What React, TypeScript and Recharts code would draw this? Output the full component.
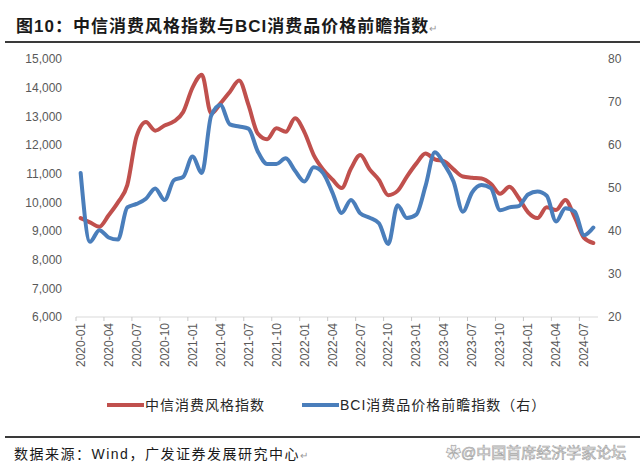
import React from 'react';
import { LineChart, Line, XAxis, YAxis } from 'recharts';

const months = [
  '2020-01', '2020-02', '2020-03', '2020-04', '2020-05', '2020-06', '2020-07', '2020-08', '2020-09', '2020-10', '2020-11', '2020-12',
  '2021-01', '2021-02', '2021-03', '2021-04', '2021-05', '2021-06', '2021-07', '2021-08', '2021-09', '2021-10', '2021-11', '2021-12',
  '2022-01', '2022-02', '2022-03', '2022-04', '2022-05', '2022-06', '2022-07', '2022-08', '2022-09', '2022-10', '2022-11', '2022-12',
  '2023-01', '2023-02', '2023-03', '2023-04', '2023-05', '2023-06', '2023-07', '2023-08', '2023-09', '2023-10', '2023-11', '2023-12',
  '2024-01', '2024-02', '2024-03', '2024-04', '2024-05', '2024-06', '2024-07', '2024-08',
];

// 中信消费风格指数 (left axis)
const citicConsumer = [
  9450, 9300, 9150, 9550, 10000, 10600, 12300, 12800, 12500, 12680, 12820, 13150,
  14000, 14450, 13100, 13450, 13850, 14250, 13400, 12400, 12200, 12580, 12460, 12930,
  12450, 11650, 11150, 10800, 10500, 11180, 11650, 11150, 10780, 10250, 10400, 10900,
  11350, 11700, 11500, 11430, 11150, 10900, 10860, 10830, 10650, 10300, 10540, 10150,
  9650, 9450, 9830, 9730, 10080, 9480, 8760, 8580,
];

// BCI消费品价格前瞻指数 (right axis)
const bciPrice = [
  53.5, 37.5, 40.2, 38.5, 38.0, 45.5, 46.3, 47.5, 49.9, 47.2, 51.8, 52.6,
  57.3, 53.5, 66.8, 69.3, 64.8, 64.3, 63.8, 58.5, 55.6, 55.6, 56.9, 54.0,
  51.5, 54.8, 53.5, 49.0, 44.2, 47.2, 44.1, 43.1, 41.8, 37.0, 46.0, 43.0,
  43.8, 50.5, 58.3, 55.5, 51.5, 44.5, 49.0, 50.7, 50.0, 44.8, 45.5, 45.8,
  48.5, 49.2, 48.2, 42.2, 45.3, 44.5, 39.0, 40.8,
];

const tickLabels = [
  '2020-01', '2020-04', '2020-07', '2020-10', '2021-01', '2021-04', '2021-07', '2021-10',
  '2022-01', '2022-04', '2022-07', '2022-10', '2023-01', '2023-04', '2023-07', '2023-10',
  '2024-01', '2024-04', '2024-07',
];

const leftTicks = [6000, 7000, 8000, 9000, 10000, 11000, 12000, 13000, 14000, 15000];
const rightTicks = [20, 30, 40, 50, 60, 70, 80];

const seriesNames = ['中信消费风格指数', 'BCI消费品价格前瞻指数（右）'];

const RED = '#C0504D';
const BLUE = '#4A7EBB';

const CHART_W = 640;
const CHART_H = 380;
const LEFT_W = 76;
const RIGHT_W = 42;
const X_H = 63;
const TOP = 59;
const MONTH_W = (CHART_W - LEFT_W - RIGHT_W) / months.length;

const data = months.map((m, i) => ({ i, month: m, citic: citicConsumer[i], bci: bciPrice[i] }));
const xTicks = tickLabels.map((l) => months.indexOf(l));

const AXIS_FONT = '"Liberation Sans", Arial, sans-serif';
const CJK_FONT = '"Liberation Sans", Arial, "Noto Sans CJK SC", sans-serif';

const MonthTick = (props: any) => {
  const { x, y, payload } = props;
  const label = months[payload.value];
  const tx = x - MONTH_W / 2;
  return (
    <g>
      <line x1={tx} x2={tx} y1={y} y2={y + 4} stroke="#c8c8c8" strokeWidth={1} />
      <text
        x={0}
        y={0}
        transform={`translate(${x},${y + 6}) rotate(-90)`}
        textAnchor="end"
        dy="0.35em"
        fill="#595959"
        fontSize={12}
        fontFamily={AXIS_FONT}
      >
        {label}
      </text>
    </g>
  );
};

export default function App() {
  return (
    <div
      style={{
        position: 'absolute',
        left: 0,
        top: 0,
        width: 640,
        height: 472,
        background: '#fff',
        overflow: 'hidden',
        fontFamily: CJK_FONT,
      }}
    >
      <div
        style={{
          position: 'absolute',
          left: 16,
          top: 17,
          fontSize: 17,
          lineHeight: '20px',
          fontWeight: 'bold',
          letterSpacing: 1,
          color: '#1a1a1a',
          whiteSpace: 'nowrap',
        }}
      >
        图10：中信消费风格指数与BCI消费品价格前瞻指数
        <span style={{ fontSize: 10, color: '#999', fontWeight: 'normal' }}>↵</span>
      </div>
      <div style={{ position: 'absolute', left: 5, top: 41, width: 635, height: 2, background: '#3a3a3a' }} />

      <div style={{ position: 'absolute', left: 0, top: 0 }}>
        <LineChart width={CHART_W} height={CHART_H} data={data} margin={{ top: TOP, right: 0, bottom: 0, left: 0 }}>
          <XAxis
            dataKey="i"
            type="number"
            domain={[-0.5, months.length - 0.5]}
            ticks={xTicks}
            interval={0}
            height={X_H}
            tickSize={0}
            tickMargin={0}
            tickLine={false}
            axisLine={{ stroke: '#d9d9d9', strokeWidth: 1 }}
            tick={<MonthTick />}
          />
          <YAxis
            yAxisId="left"
            orientation="left"
            width={LEFT_W}
            domain={[6000, 15000]}
            ticks={leftTicks}
            interval={0}
            axisLine={false}
            tickLine={false}
            tickSize={0}
            tickMargin={14}
            tickFormatter={(v: number) => v.toLocaleString('en-US')}
            tick={{ fill: '#595959', fontSize: 12, fontFamily: AXIS_FONT }}
          />
          <YAxis
            yAxisId="right"
            orientation="right"
            width={RIGHT_W}
            domain={[20, 80]}
            ticks={rightTicks}
            interval={0}
            axisLine={false}
            tickLine={false}
            tickSize={0}
            tickMargin={10}
            tick={{ fill: '#595959', fontSize: 12, fontFamily: AXIS_FONT }}
          />
          <Line
            yAxisId="left"
            dataKey="citic"
            name={seriesNames[0]}
            type="monotone"
            stroke={RED}
            strokeWidth={4}
            strokeLinecap="round"
            strokeLinejoin="round"
            dot={false}
            activeDot={false}
            isAnimationActive={false}
          />
          <Line
            yAxisId="right"
            dataKey="bci"
            name={seriesNames[1]}
            type="monotone"
            stroke={BLUE}
            strokeWidth={4}
            strokeLinecap="round"
            strokeLinejoin="round"
            dot={false}
            activeDot={false}
            isAnimationActive={false}
          />
        </LineChart>
      </div>

      {/* legend */}
      <div style={{ position: 'absolute', left: 107, top: 403, width: 37, height: 4, background: RED }} />
      <div
        style={{
          position: 'absolute',
          left: 145,
          top: 396,
          fontSize: 14,
          lineHeight: '18px',
          letterSpacing: 1,
          color: '#262626',
          whiteSpace: 'nowrap',
        }}
      >
        {seriesNames[0]}
      </div>
      <div style={{ position: 'absolute', left: 302, top: 403, width: 37, height: 4, background: BLUE }} />
      <div
        style={{
          position: 'absolute',
          left: 340,
          top: 396,
          fontSize: 14,
          lineHeight: '18px',
          letterSpacing: 1,
          color: '#262626',
          whiteSpace: 'nowrap',
        }}
      >
        {seriesNames[1]}
      </div>

      <div style={{ position: 'absolute', left: 5, top: 436, width: 635, height: 2, background: '#3a3a3a' }} />
      <div
        style={{
          position: 'absolute',
          left: 14,
          top: 445,
          fontSize: 14,
          lineHeight: '18px',
          letterSpacing: 1.5,
          color: '#1a1a1a',
          whiteSpace: 'nowrap',
        }}
      >
        数据来源：Wind，广发证券发展研究中心
        <span style={{ fontSize: 10, color: '#999' }}>↵</span>
      </div>
      <div
        style={{
          position: 'absolute',
          left: 446,
          top: 444,
          fontSize: 15,
          lineHeight: '18px',
          color: '#f4f4f4',
          WebkitTextStroke: '0.7px #a8a8a8',
          whiteSpace: 'nowrap',
        }}
      >
        ✿@中国首席经济学家论坛
      </div>
    </div>
  );
}
